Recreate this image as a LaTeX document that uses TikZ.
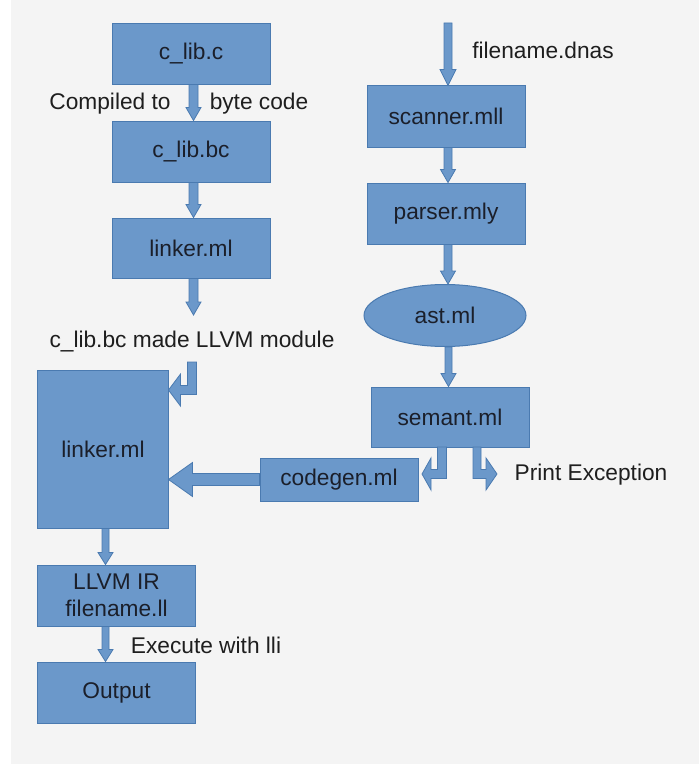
\documentclass[tikz,border=0pt]{standalone}
\usepackage{fontspec}
\setmainfont{Liberation Sans}
\usetikzlibrary{calc,shapes.geometric}
\definecolor{boxfill}{HTML}{6B98CA}
\definecolor{boxline}{HTML}{4A7AB0}
\definecolor{txt}{HTML}{1B1F2A}
\definecolor{lbl}{HTML}{1E1E1E}
\definecolor{bg}{HTML}{F4F4F4}
\newcommand\bigfont{\fontsize{22.8}{27}\selectfont}
% straight block arrow pointing down: start, end, shaft half width, head half width, head length
\newcommand\vblock[5]{%
  \draw[blk] ($(#1)+(-#3,0)$) -- ($(#1)+(#3,0)$) -- ($(#1|-#2)+(#3,-#5)$)
    -- ($(#1|-#2)+(#4,-#5)$) -- (#1|-#2) -- ($(#1|-#2)+(-#4,-#5)$)
    -- ($(#1|-#2)+(-#3,-#5)$) -- cycle;}
\tikzset{
  box/.style={draw=boxline, fill=boxfill, line width=1bp, text=txt,
    font=\bigfont, inner sep=0pt, align=center},
  blk/.style={draw=boxline, fill=boxfill, line width=0.8bp, line join=miter},
  note/.style={text=lbl, font=\bigfont, inner sep=0pt},
}
\begin{document}
\begin{tikzpicture}[x=1bp,y=-1bp]
  % page and panel background
  \fill[white] (0,0) rectangle (699,766);
  \fill[bg] (11,0) rectangle (699,764);
  \useasboundingbox (0,0) rectangle (699,766);

  % left column
  \node[box, minimum width=158bp, minimum height=60bp] (clibc) at (191,54) {c\_lib.c};
  \node[box, minimum width=158bp, minimum height=61bp] (clibbc) at (191,151.5) {c\_lib.bc};
  \node[box, minimum width=158bp, minimum height=60bp] (linkA) at (191,248) {linker.ml};
  \node[box, minimum width=130bp, minimum height=158bp] (linkB) at (103,449) {linker.ml};
  \node[box, minimum width=157bp, minimum height=61bp] (llvm) at (116.5,595.5) {LLVM IR\\filename.ll};
  \node[box, minimum width=157bp, minimum height=61bp] (out) at (116.5,692.5) {Output};

  % right column
  \node[box, minimum width=158bp, minimum height=61bp] (scan) at (446,116.5) {scanner.mll};
  \node[box, minimum width=158bp, minimum height=61bp] (pars) at (446,213.5) {parser.mly};
  \node[box, ellipse, minimum width=162bp, minimum height=62bp] (ast) at (445,315.5) {ast.ml};
  \node[box, minimum width=158bp, minimum height=60bp] (sem) at (450,417) {semant.ml};
  \node[box, minimum width=158bp, minimum height=43bp] (cg) at (339,479.5) {codegen.ml};

  % labels
  \node[note] (lcomp) at (110,104) {Compiled to};
  \node[note] (lbyte) at (259,104) {byte code};
  \node[note] (lmod) at (192,342) {c\_lib.bc made LLVM module};
  \node[note] (lfile) at (543,50) {filename.dnas};
  \node[note] (lexc) at (591,475) {Print Exception};
  \node[note] (lexec) at (206,645) {Execute with lli};

  % arrow start points on the lower edges of the boxes
  \coordinate (s1) at ($(clibc.south)+(2.5,0)$);
  \coordinate (s2) at ($(clibbc.south)+(2.5,0)$);
  \coordinate (s3) at ($(linkA.south)+(2.5,0)$);
  \coordinate (s4) at ($(scan.south)+(2,0)$);
  \coordinate (s5) at ($(pars.south)+(2,0)$);
  \coordinate (s6) at ($(ast.south)+(3.5,0)$);
  \coordinate (s7) at ($(linkB.south)+(2.5,0)$);
  \coordinate (s8) at (s7|-llvm.south);
  % free ends of arrows
  \coordinate (src) at (448,23);
  \coordinate (modend) at (193.5,315);
  \coordinate (e1top) at (192,362);
  \coordinate (e1turn) at (192,390);
  \coordinate (e2top) at (442,447);
  \coordinate (e2turn) at (442,474);
  \coordinate (e2tip) at (422,474);
  \coordinate (e3top) at (477,447);
  \coordinate (e3turn) at (477,474);
  \coordinate (e3tip) at (497,474);

  % straight block arrows
  \vblock{s1}{clibbc.north}{4.5}{7.5}{13}
  \vblock{s2}{linkA.north}{4.5}{7.5}{13}
  \vblock{s3}{modend}{4.5}{7.5}{13}
  \vblock{src}{scan.north}{4}{8}{16}
  \vblock{s4}{pars.north}{4}{7.5}{13}
  \vblock{s5}{ast.north}{4}{7.5}{13}
  \vblock{s6}{sem.north}{3.5}{7.5}{13}
  \vblock{s7}{llvm.north}{3.5}{7.5}{12}
  \vblock{s8}{out.north}{3.5}{7.5}{12}

  % codegen into linker
  \draw[blk] ($(cg.west)+(0,-6)$) -- ($(linkB.east|-cg.west)+(24,-6)$)
    -- ($(linkB.east|-cg.west)+(24,-17)$) -- (linkB.east|-cg.west)
    -- ($(linkB.east|-cg.west)+(24,17)$) -- ($(linkB.east|-cg.west)+(24,6)$)
    -- ($(cg.west)+(0,6)$) -- cycle;

  % bent arrow into the large linker box
  \draw[blk] ($(e1top)+(-4.5,0)$) -- ($(e1top)+(4.5,0)$) -- ($(e1turn)+(4.5,4.5)$)
    -- ($(linkB.east|-e1turn)+(12,4.5)$) -- ($(linkB.east|-e1turn)+(12,16)$)
    -- (linkB.east|-e1turn) -- ($(linkB.east|-e1turn)+(12,-16)$)
    -- ($(linkB.east|-e1turn)+(12,-4.5)$) -- ($(e1turn)+(-4.5,-4.5)$) -- cycle;

  % semant to codegen (bent left)
  \draw[blk] ($(e2top)+(-4.5,0)$) -- ($(e2top)+(4.5,0)$) -- ($(e2turn)+(4.5,4.5)$)
    -- ($(e2tip)+(9,4.5)$) -- ($(e2tip)+(9,16)$) -- (e2tip) -- ($(e2tip)+(9,-16)$)
    -- ($(e2tip)+(9,-4.5)$) -- ($(e2turn)+(-4.5,-4.5)$) -- cycle;

  % semant to exception (bent right)
  \draw[blk] ($(e3top)+(4,0)$) -- ($(e3top)+(-4,0)$) -- ($(e3turn)+(-4,4.5)$)
    -- ($(e3tip)+(-11,4.5)$) -- ($(e3tip)+(-11,16)$) -- (e3tip) -- ($(e3tip)+(-11,-16)$)
    -- ($(e3tip)+(-11,-4.5)$) -- ($(e3turn)+(4,-4.5)$) -- cycle;
\end{tikzpicture}
\end{document}
